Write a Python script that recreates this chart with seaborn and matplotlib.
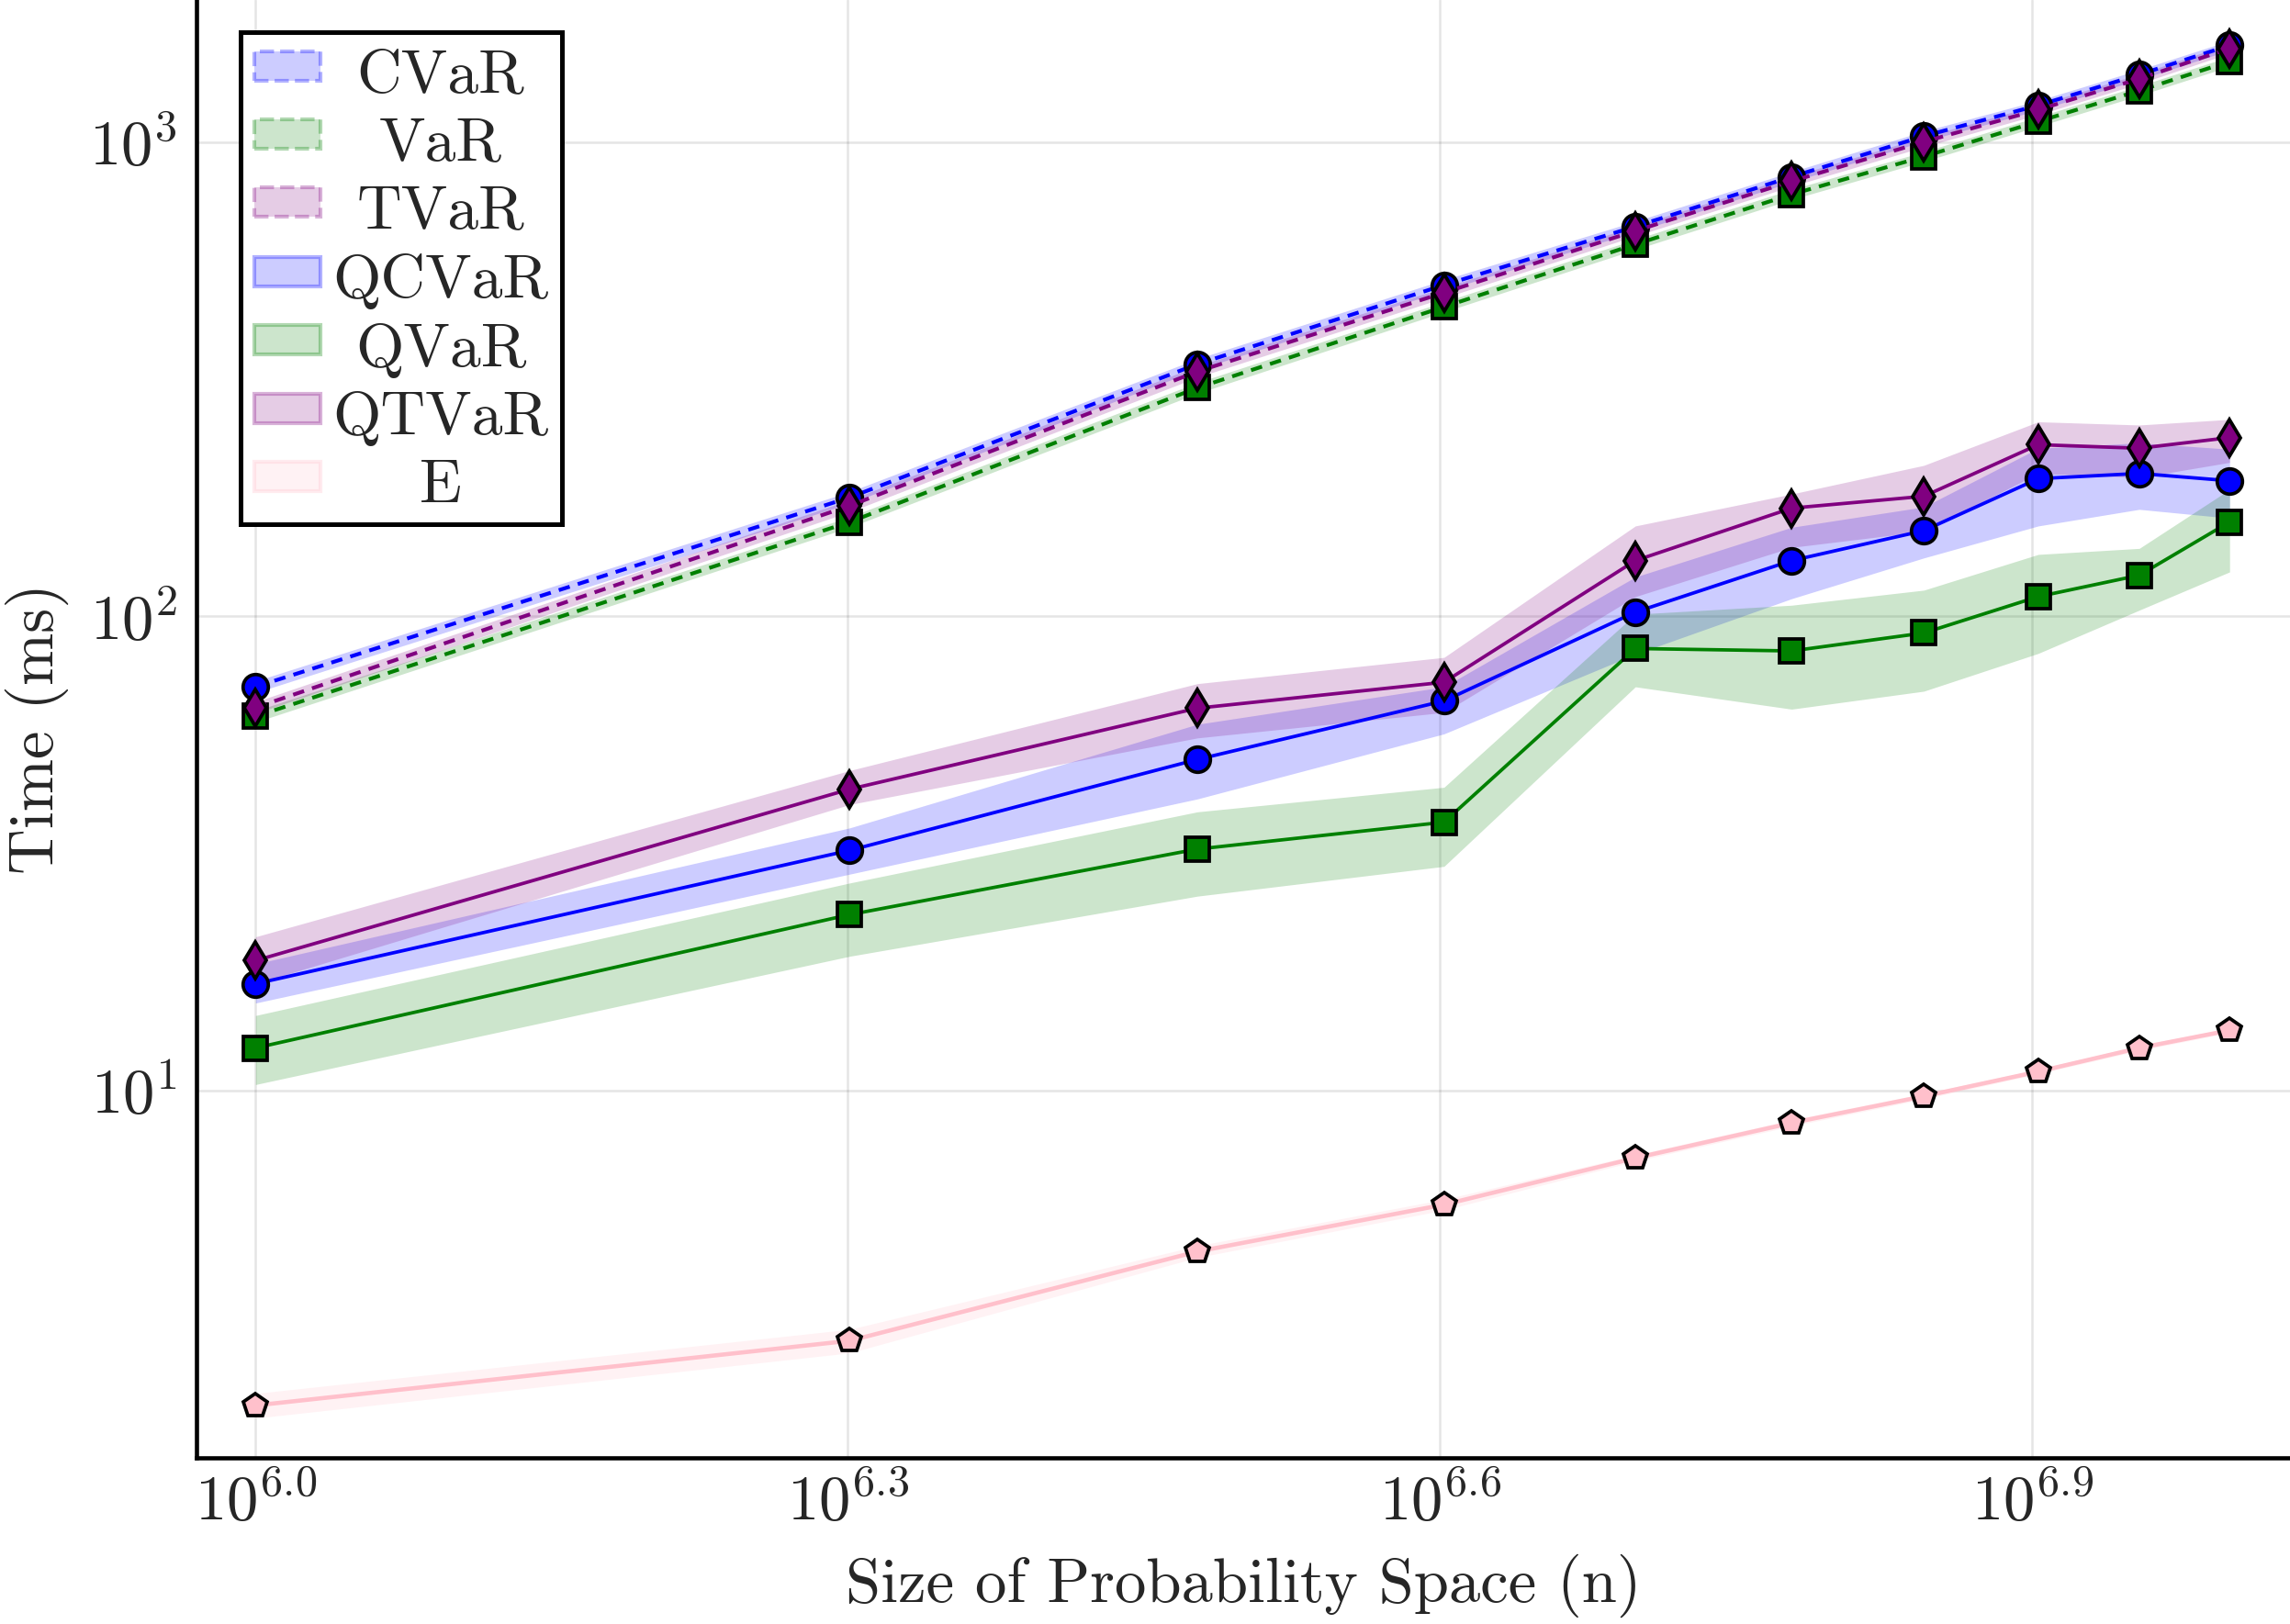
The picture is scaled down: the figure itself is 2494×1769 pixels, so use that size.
import matplotlib
matplotlib.use('Agg')
import matplotlib.pyplot as plt
from matplotlib.patches import Patch
import seaborn as sns

# problem sizes (x) and timings in ms
n = [1e6, 2e6, 3e6, 4e6, 5e6, 6e6, 7e6, 8e6, 9e6, 10e6]

cvar = [71, 178, 340, 499, 663, 844, 1028, 1194, 1386, 1597]
cvar_lo = [69, 173, 331, 486, 646, 823, 1003, 1166, 1353, 1560]
cvar_hi = [73, 183, 349, 512, 680, 865, 1053, 1222, 1419, 1634]

var = [61.5, 158, 303, 449, 608, 775, 931, 1104, 1282, 1477]
var_lo = [59.8, 154, 295, 438, 593, 756, 909, 1078, 1252, 1442]
var_hi = [63.2, 162, 311, 460, 623, 794, 953, 1130, 1312, 1512]

tvar = [64.2, 171, 328, 481, 649, 826, 1000, 1169, 1358, 1574]
tvar_lo = [62.4, 166, 319, 469, 633, 806, 976, 1141, 1326, 1537]
tvar_hi = [66.0, 176, 337, 493, 665, 846, 1024, 1197, 1390, 1611]

qcvar = [16.8, 32.1, 49.9, 66.3, 102, 131, 151.5, 195, 200, 193]
qcvar_lo = [15.3, 28.6, 41.2, 56.5, 83.2, 108.9, 132.7, 155, 168, 161]
qcvar_hi = [18.5, 35.8, 59.2, 71, 121, 154, 170, 226, 232, 225]

qvar = [12.3, 23.5, 32.3, 36.8, 85.5, 84.5, 92.2, 110, 122, 158]
qvar_lo = [10.3, 19.2, 25.7, 29.7, 71, 63.7, 69.5, 83.5, 103, 124]
qvar_hi = [14.4, 27.4, 38.7, 43.6, 101, 105.5, 113.5, 135, 139, 185]

qtvar = [18.8, 43.2, 64, 72.6, 131, 169, 179, 230, 226, 238]
qtvar_lo = [16.8, 40.1, 55.4, 62.7, 110, 139.7, 151, 200, 196, 211]
qtvar_hi = [21.1, 47.3, 72.1, 81.9, 155, 181, 208, 257, 253, 260]

e = [2.17, 2.97, 4.58, 5.75, 7.21, 8.55, 9.73, 10.97, 12.3, 13.4]
e_lo = [2.04, 2.80, 4.45, 5.60, 7.10, 8.42, 9.60, 10.85, 12.15, 13.25]
e_hi = [2.30, 3.14, 4.71, 5.90, 7.32, 8.68, 9.86, 11.09, 12.45, 13.55]

labels = ['CVaR', 'VaR', 'TVaR', 'QCVaR', 'QVaR', 'QTVaR', 'E']
xtick_exp = ['6.0', '6.3', '6.6', '6.9']
ytick_vals = [10, 100, 1000]

sns.set_theme(style='white')
plt.rcParams['font.family'] = 'serif'
plt.rcParams['font.serif'] = ['cmr10']
plt.rcParams['mathtext.fontset'] = 'cm'
plt.rcParams['axes.formatter.use_mathtext'] = True

fig = plt.figure(figsize=(2494 / 300, 1769 / 300), dpi=300)
ax = fig.add_axes([0.0858, 0.1023, 0.9142, 0.8977])

series = [
    (cvar, cvar_lo, cvar_hi, 'blue', 'o', 6.6, 'dashed'),
    (var, var_lo, var_hi, 'green', 's', 6.3, 'dashed'),
    (tvar, tvar_lo, tvar_hi, 'purple', 'd', 6.8, 'dashed'),
    (qcvar, qcvar_lo, qcvar_hi, 'blue', 'o', 6.6, 'solid'),
    (qvar, qvar_lo, qvar_hi, 'green', 's', 6.3, 'solid'),
    (qtvar, qtvar_lo, qtvar_hi, 'purple', 'd', 6.8, 'solid'),
    (e, e_lo, e_hi, 'pink', 'p', 6.4, 'solid'),
]

handles = []
for (y, lo, hi, col, mk, ms, ls), lab in zip(series, labels):
    ax.fill_between(n, lo, hi, color=col, alpha=0.2, linewidth=0)
    dash = (0, (3.0, 2.2)) if ls == 'dashed' else '-'
    lw = 1.0 if ls == 'dashed' else 0.9
    if col == 'pink':
        lw = 1.1
    sns.lineplot(x=n, y=y, ax=ax, color=col, linestyle=dash, linewidth=lw,
                 marker=mk, markersize=ms, markeredgecolor='black',
                 markeredgewidth=0.9, markerfacecolor=col, estimator=None)
    handles.append(Patch(facecolor=matplotlib.colors.to_rgba(col, 0.2),
                         edgecolor=matplotlib.colors.to_rgba(col, 0.3),
                         linewidth=1.0, linestyle=ls, label=lab))

ax.set_xscale('log')
ax.set_yscale('log')
ax.set_xlim(10 ** 5.9701, 10 ** 7.0306)
ax.set_ylim(10 ** 0.2259, 10 ** 3.299)

ax.set_xticks([10 ** float(s) for s in xtick_exp])
ax.set_xticklabels(['$10^{%s}$' % s for s in xtick_exp])
ax.set_yticks(ytick_vals)
ax.set_yticklabels(['$10^{%d}$' % k for k in [1, 2, 3]])
ax.minorticks_off()
ax.tick_params(axis='both', direction='in', length=4.3, width=0.4,
               color='#333333', labelsize=16.5, pad=5)
ax.tick_params(axis='x', pad=4)

ax.grid(True, color='black', alpha=0.1, linewidth=0.6)
for side in ['top', 'right']:
    ax.spines[side].set_visible(False)
for side in ['left', 'bottom']:
    ax.spines[side].set_color('black')
    ax.spines[side].set_linewidth(1.1)

ax.set_xlabel('Size of Probability Space (n)', fontsize=16.5)
ax.set_ylabel('Time (ms)', fontsize=16.5)
ax.xaxis.set_label_coords(0.5, -0.066)
ax.yaxis.set_label_coords(-0.061, 0.5)

leg = ax.legend(handles=handles, loc='upper left', bbox_to_anchor=(0.021, 0.978),
                borderaxespad=0, fontsize=16.2, frameon=True, fancybox=False,
                framealpha=1, edgecolor='black', handlelength=1.07,
                handleheight=0.35, handletextpad=0.2, labelspacing=0.215,
                borderpad=0.22)
leg.get_frame().set_linewidth(1.2)

# centre legend labels like the original, nudged slightly down
fig.canvas.draw()
texts = leg.get_texts()
widths = [t.get_window_extent().width for t in texts]
wmax = max(widths)
for t, w in zip(texts, widths):
    t.set_position(((wmax - w) / 2, -4))

fig.savefig('out.png', dpi=300)
